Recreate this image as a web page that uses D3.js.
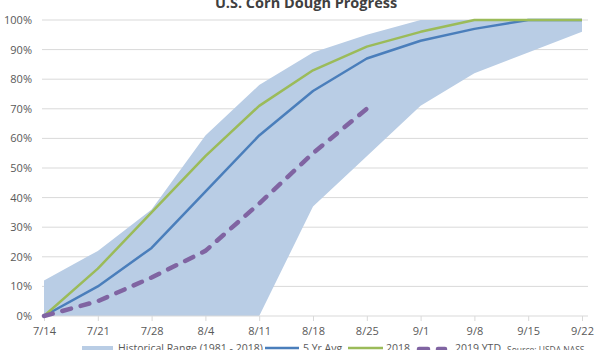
<!DOCTYPE html>
<html>
<head>
<meta charset="utf-8">
<script src="https://cdn.jsdelivr.net/npm/d3@7"></script>
<style>
  body { margin: 0; background: #fff; }
  svg { display: block; font-family: "Open Sans", "Liberation Sans", sans-serif; }
</style>
</head>
<body>
<svg id="chart" width="600" height="350"></svg>
<script>
const weeks = ['7/14', '7/21', '7/28', '8/4', '8/11', '8/18', '8/25', '9/1', '9/8', '9/15', '9/22']
const rangeLow = [0, 0, 0, 0, 0, 37, 54, 71, 82, 89, 96]
const rangeHigh = [12, 22, 36, 61, 78, 89, 95, 100, 100, 100, 100]
const avg5 = [0, 10, 23, 42, 61, 76, 87, 93, 97, 100, 100]
const y2018 = [0, 16, 35, 54, 71, 83, 91, 96, 100, 100, 100]
const y2019 = [0, 5, 13, 22, 38, 55, 70]
const yTicks = [0, 10, 20, 30, 40, 50, 60, 70, 80, 90, 100]

const svg = d3.select('#chart')
const margin = { top: 20, left: 44, right: 18, bottom: 34 }
const width = 600, height = 350
const innerwidth = width - margin.left - margin.right
const innerheight = height - margin.top - margin.bottom

const x = d3.scalePoint().domain(weeks).range([margin.left, margin.left + innerwidth])
const y = d3.scaleLinear().domain([0, 100]).range([margin.top + innerheight, margin.top])

// 网格线
svg.append('g')
  .selectAll('line')
  .data(yTicks.slice(1))
  .enter()
  .append('line')
  .attr('x1', margin.left - 2)
  .attr('x2', margin.left + innerwidth + 6)
  .attr('y1', d => y(d))
  .attr('y2', d => y(d))
  .attr('stroke', '#d9d9d9')
  .attr('stroke-width', 1)

// 历史范围
const rangeData = weeks.map((w, i) => ({ w, lo: rangeLow[i], hi: rangeHigh[i] }))
svg.append('path')
  .datum(rangeData)
  .attr('fill', '#b9cde5')
  .attr('d', d3.area().x(d => x(d.w)).y0(d => y(d.lo)).y1(d => y(d.hi)))

// x轴
const xAxis = d3.axisBottom(x).tickSize(5).tickSizeOuter(0).tickPadding(6)
const xg = svg.append('g')
  .attr('transform', `translate(0,${y(0)})`)
  .call(xAxis)
xg.select('.domain').remove()
xg.append('line')
  .attr('x1', margin.left - 2).attr('x2', margin.left + innerwidth + 6)
  .attr('stroke', '#d9d9d9')
xg.selectAll('.tick line').attr('stroke', '#d9d9d9')
xg.selectAll('text').attr('fill', '#595959').attr('font-size', '11px').attr('font-family', '"Open Sans", sans-serif')

// y轴
const yAxis = d3.axisLeft(y).tickValues(yTicks).tickSize(0).tickPadding(12).tickFormat(d => d + '%')
const yg = svg.append('g')
  .attr('transform', `translate(${margin.left},0)`)
  .call(yAxis)
yg.select('.domain').remove()
yg.selectAll('text').attr('fill', '#595959').attr('font-size', '11px').attr('font-family', '"Open Sans", sans-serif')

const line = d3.line().x((d, i) => x(weeks[i])).y(d => y(d))

svg.append('path').datum(avg5)
  .attr('fill', 'none').attr('stroke', '#4a7ebb').attr('stroke-width', 2.5)
  .attr('stroke-linejoin', 'round')
  .attr('d', line)

svg.append('path').datum(y2018)
  .attr('fill', 'none').attr('stroke', '#9bbb59').attr('stroke-width', 2.5)
  .attr('stroke-linejoin', 'round')
  .attr('d', line)

svg.append('path').datum(y2019)
  .attr('fill', 'none').attr('stroke', '#8064a2').attr('stroke-width', 4.5)
  .attr('stroke-linecap', 'round').attr('stroke-dasharray', '9,10')
  .attr('d', line)

// 标题
svg.append('text')
  .attr('x', 306).attr('y', 8)
  .attr('text-anchor', 'middle')
  .attr('font-size', '14.5px').attr('font-weight', 'bold')
  .attr('fill', '#404040')
  .text('U.S. Corn Dough Progress')

// 图例
const lg = svg.append('g').attr('font-size', '10.5px').attr('fill', '#595959')
lg.append('rect').attr('x', 82).attr('y', 346).attr('width', 31).attr('height', 8).attr('fill', '#b9cde5')
lg.append('text').attr('x', 118).attr('y', 352).attr('fill', '#595959').text('Historical Range (1981 - 2018)')
lg.append('line').attr('x1', 265).attr('x2', 299).attr('y1', 348).attr('y2', 348).attr('stroke', '#4a7ebb').attr('stroke-width', 2.5)
lg.append('text').attr('x', 303).attr('y', 352).attr('fill', '#595959').text('5 Yr Avg')
lg.append('line').attr('x1', 348).attr('x2', 383).attr('y1', 348).attr('y2', 348).attr('stroke', '#9bbb59').attr('stroke-width', 2.5)
lg.append('text').attr('x', 386).attr('y', 352).attr('fill', '#595959').text('2018')
lg.append('line').attr('x1', 419).attr('x2', 445).attr('y1', 349).attr('y2', 349).attr('stroke', '#8064a2').attr('stroke-width', 4.5)
  .attr('stroke-linecap', 'round').attr('stroke-dasharray', '9,10')
lg.append('text').attr('x', 455).attr('y', 352).attr('fill', '#595959').text('2019 YTD')
lg.append('text').attr('x', 507).attr('y', 353).attr('font-size', '8.5px').attr('fill', '#595959').text('Source: USDA NASS')
</script>
</body>
</html>
